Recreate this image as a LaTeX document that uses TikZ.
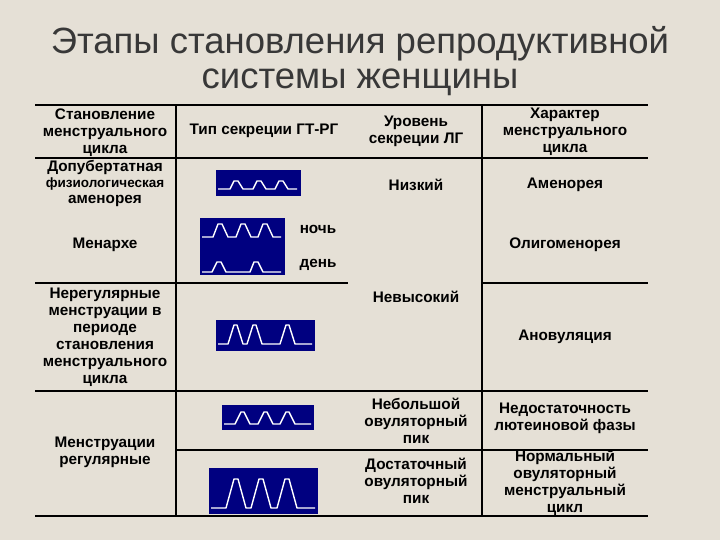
\documentclass[tikz,border=0pt]{standalone}
\usepackage{fontspec}
\setmainfont{Liberation Sans}
\definecolor{bgc}{RGB}{229,224,214}
\definecolor{navyc}{RGB}{0,0,128}
\begin{document}
\begin{tikzpicture}[x=1pt,y=-1pt,
  tb/.style={font=\bfseries\fontsize{15.3}{17}\selectfont,align=center,text=black,inner sep=0},
  ttl/.style={font=\fontsize{36.5}{40}\selectfont,align=center,inner sep=0},
  grid/.style={line width=1.1pt,black},
  pbox/.style={fill=navyc,draw=none},
  pl/.style={white,line width=1.4pt,line join=round}]
\fill[bgc] (0,0) rectangle (720,540);
\useasboundingbox (0,0) rectangle (720,540);
% title
\node[ttl,text=black!78] (t1) at (360,44) {Этапы становления репродуктивной};
\node[ttl,text=black!78] (t2) at (360,82) {системы женщины};
% grid
\draw[grid] (35,105) -- (648,105);
\draw[grid] (35,158) -- (648,158);
\draw[grid] (35,283) -- (348,283);
\draw[grid] (482,283) -- (648,283);
\draw[grid] (35,391) -- (648,391);
\draw[grid] (176,450) -- (648,450);
\draw[grid] (35,516) -- (648,516);
\draw[grid] (176,105) -- (176,516);
\draw[grid] (482,105) -- (482,516);
% header
\node[tb] (h1) at (105,133) {Становление\\менструального\\цикла};
\node[tb] (h2) at (264,131) {Тип секреции ГТ-РГ};
\node[tb] (h3) at (416,131) {Уровень\\секреции ЛГ};
\node[tb] (h4) at (565,132) {Характер\\менструального\\цикла};
% col1
\node[tb] (a1) at (105,167) {Допубертатная};
\node[tb,font=\bfseries\fontsize{13.5}{15}\selectfont] (a2) at (105,184) {физиологическая};
\node[tb] (a3) at (105,201) {аменорея};
\node[tb] (a4) at (105,245) {Менархе};
\node[tb] (a5) at (105,337) {Нерегулярные\\менструации в\\периоде\\становления\\менструального\\цикла};
\node[tb] (a6) at (105,452) {Менструации\\регулярные};
% col3
\node[tb] (c1) at (416,185) {Низкий};
\node[tb] (c2) at (416,297) {Невысокий};
\node[tb] (c3) at (416,421) {Небольшой\\овуляторный\\пик};
\node[tb] (c4) at (416,481) {Достаточный\\овуляторный\\пик};
% col4
\node[tb] (d1) at (565,185) {Аменорея};
\node[tb] (d2) at (565,245) {Олигоменорея};
\node[tb] (d3) at (565,337) {Ановуляция};
\node[tb] (d4) at (565,418) {Недостаточность\\лютеиновой фазы};
\node[tb] (d5) at (565,483) {Нормальный\\овуляторный\\менструальный\\цикл};
\node[tb] (n1) at (318,229) {ночь};
\node[tb] (n2) at (318,265) {день};
% pulse boxes
\fill[pbox] (216,170) rectangle (301,196);
\draw[pl] (218,189) -- (230,189) -- (234,181) -- (238,181) -- (243,189) -- (253,189) -- (257,181) -- (261,181) -- (266,189) -- (275,189) -- (279,181) -- (283,181) -- (288,189) -- (297,189);
\fill[pbox] (200,218) rectangle (285,275);
\draw[pl] (202,237) -- (213,237) -- (218,224) -- (222,224) -- (228,237) -- (236,237) -- (241,224) -- (245,224) -- (251,237) -- (258,237) -- (263,224) -- (267,224) -- (273,237) -- (281,237);
\draw[pl] (202,272) -- (212,272) -- (217,262) -- (221,262) -- (226,272) -- (250,272) -- (254,262) -- (258,262) -- (263,272) -- (281,272);
\fill[pbox] (216,320) rectangle (315,351);
\draw[pl] (218,344) -- (228,344) -- (234,325) -- (237,325) -- (243,344) -- (247,344) -- (253,325) -- (256,325) -- (262,344) -- (280,344) -- (286,325) -- (289,325) -- (295,344) -- (312,344);
\fill[pbox] (222,405) rectangle (314,430);
\draw[pl] (224,424) -- (235,424) -- (241,412) -- (244,412) -- (250,424) -- (258,424) -- (264,412) -- (267,412) -- (273,424) -- (280,424) -- (286,412) -- (289,412) -- (295,424) -- (311,424);
\fill[pbox] (209,468) rectangle (318,514);
\draw[pl] (211,508) -- (226,508) -- (234,479) -- (238,479) -- (246,508) -- (251,508) -- (259,479) -- (263,479) -- (271,508) -- (277,508) -- (285,479) -- (289,479) -- (297,508) -- (315,508);
\end{tikzpicture}
\end{document}
